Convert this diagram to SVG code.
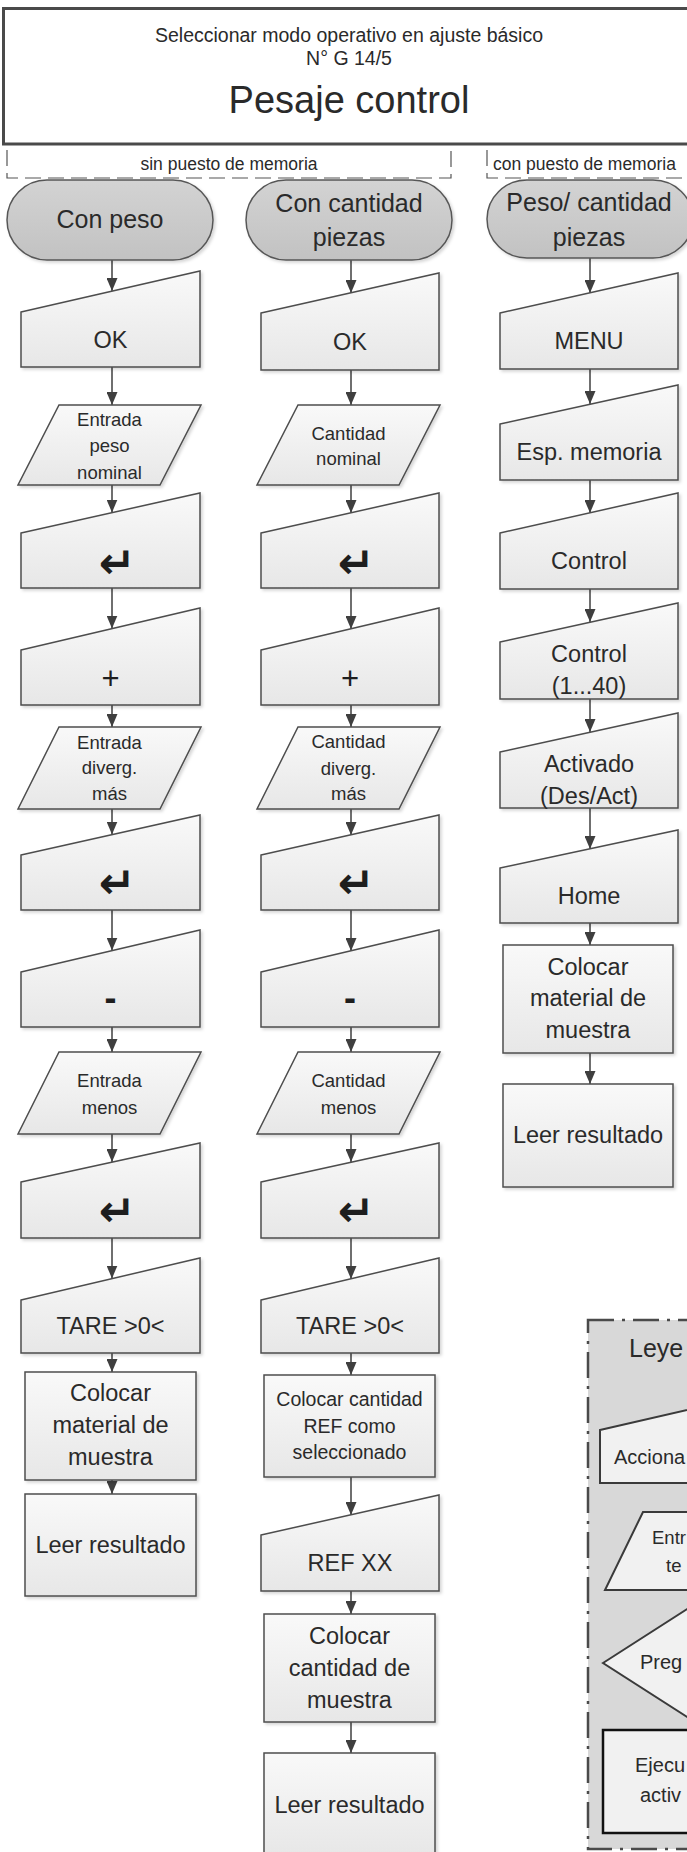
<svg xmlns="http://www.w3.org/2000/svg" width="687" height="1852" viewBox="0 0 687 1852">
  <defs>
    <style>
      .t { font-family: "Liberation Sans", Arial, sans-serif; fill: #2a2a2a; text-anchor: middle; }
      .s { text-anchor: start; }
      .f38 { font-size: 38px; }
      .f25 { font-size: 25px; }
      .f23 { font-size: 23.5px; }
      .f20 { font-size: 20px; }
      .f19 { font-size: 19.5px; }
      .f18 { font-size: 18.5px; }
      .f17 { font-size: 17.5px; }
      .sym { font-family: "DejaVu Sans", sans-serif; font-weight: bold; font-size: 44px; fill: #1e1e1e; text-anchor: middle; }
      .plus { font-family: "Liberation Sans", Arial, sans-serif; font-size: 31px; fill: #1e1e1e; text-anchor: middle; }
      .minus { font-family: "Liberation Sans", Arial, sans-serif; font-weight: bold; font-size: 36px; fill: #1e1e1e; text-anchor: middle; }
      .term { fill: url(#gTerm); stroke: #575757; stroke-width: 1.5; filter: url(#sh); }
      .box { fill: url(#gBox); stroke: #4e4e4e; stroke-width: 1.5; filter: url(#sh); }
      .lg { fill: #f1f1f1; stroke: #3a3a3a; stroke-width: 2; }
      .grp { fill: none; stroke: #555; stroke-width: 1.2; stroke-dasharray: 16 7; }
      #connectors line { stroke: #3f3f3f; stroke-width: 1.5; marker-end: url(#ah); }
    </style>
    <linearGradient id="gBox" x1="0" y1="0" x2="0" y2="1">
      <stop offset="0" stop-color="#f9f9f9"/>
      <stop offset="1" stop-color="#e7e7e7"/>
    </linearGradient>
    <linearGradient id="gTerm" x1="0" y1="0" x2="0" y2="1">
      <stop offset="0" stop-color="#d3d3d3"/>
      <stop offset="1" stop-color="#c2c2c2"/>
    </linearGradient>
    <filter id="sh" x="-5%" y="-5%" width="115%" height="120%">
      <feDropShadow dx="2" dy="2" stdDeviation="1.5" flood-color="#000" flood-opacity="0.16"/>
    </filter>
    <marker id="ah" markerUnits="userSpaceOnUse" markerWidth="13" markerHeight="11" refX="13" refY="5.5" orient="auto">
      <path d="M0,0 L13,5.5 L0,11 Z" fill="#3f3f3f"/>
    </marker>
  </defs>

  <rect width="687" height="1852" fill="#ffffff"/>

  <!-- header -->
  <g id="title">
    <rect x="3.5" y="8.5" width="700" height="135.5" fill="#ffffff" stroke="#4a4a4a" stroke-width="3"/>
    <text class="t f19" x="349" y="42">Seleccionar modo operativo en ajuste básico</text>
    <text class="t f19" x="349" y="65">N° G 14/5</text>
    <text class="t f38" x="349" y="113">Pesaje control</text>
  </g>

  <!-- mode groups -->
  <g id="grp-sin">
    <path class="grp" d="M7,150 V178 H451 V150"/>
    <text class="t f17" x="229" y="170">sin puesto de memoria</text>
  </g>
  <g id="grp-con">
    <path class="grp" d="M487,150 V178 H700"/>
    <text class="t f17 s" x="493" y="170">con puesto de memoria</text>
  </g>

  <!-- connectors -->
  <g id="connectors">
    <line x1="112" y1="260" x2="112" y2="291"/>
    <line x1="112" y1="367" x2="112" y2="405"/>
    <line x1="112" y1="485" x2="112" y2="512.5"/>
    <line x1="112" y1="588" x2="112" y2="628.5"/>
    <line x1="112" y1="705" x2="112" y2="727"/>
    <line x1="112" y1="809" x2="112" y2="834.5"/>
    <line x1="112" y1="910" x2="112" y2="950.5"/>
    <line x1="112" y1="1027" x2="112" y2="1052"/>
    <line x1="112" y1="1134" x2="112" y2="1162"/>
    <line x1="112" y1="1238" x2="112" y2="1278.5"/>
    <line x1="112" y1="1353" x2="112" y2="1372"/>
    <line x1="112" y1="1480" x2="112" y2="1494"/>

    <line x1="351" y1="260" x2="351" y2="293"/>
    <line x1="351" y1="370" x2="351" y2="405"/>
    <line x1="351" y1="485" x2="351" y2="513"/>
    <line x1="351" y1="588" x2="351" y2="629"/>
    <line x1="351" y1="705" x2="351" y2="727"/>
    <line x1="351" y1="809" x2="351" y2="835"/>
    <line x1="351" y1="910" x2="351" y2="951"/>
    <line x1="351" y1="1027" x2="351" y2="1052"/>
    <line x1="351" y1="1134" x2="351" y2="1162"/>
    <line x1="351" y1="1238" x2="351" y2="1279"/>
    <line x1="351" y1="1353" x2="351" y2="1375"/>
    <line x1="351" y1="1477" x2="351" y2="1515"/>
    <line x1="351" y1="1591" x2="351" y2="1614"/>
    <line x1="351" y1="1722" x2="351" y2="1753"/>

    <line x1="590" y1="258" x2="590" y2="293"/>
    <line x1="590" y1="369" x2="590" y2="404"/>
    <line x1="590" y1="480" x2="590" y2="513"/>
    <line x1="590" y1="589" x2="590" y2="622"/>
    <line x1="590" y1="699" x2="590" y2="732"/>
    <line x1="590" y1="808" x2="590" y2="849"/>
    <line x1="590" y1="923" x2="590" y2="945"/>
    <line x1="590" y1="1053" x2="590" y2="1084"/>
  </g>

  <!-- column 1: con peso -->
  <g id="n1-start">
    <rect class="term" x="7" y="180" width="206" height="80" rx="40" ry="40"/>
    <text class="t f25" x="110" y="228">Con peso</text>
  </g>
  <g id="n1-ok">
    <path class="box" d="M21,312 L200,271 L200,367 L21,367 Z"/>
    <text class="t f23" x="110.5" y="348">OK</text>
  </g>
  <g id="n1-nominal">
    <path class="box" d="M59,405 L201,405 L160,485 L18,485 Z"/>
    <text class="t f18" x="109.5" y="425.5">Entrada</text>
    <text class="t f18" x="109.5" y="452">peso</text>
    <text class="t f18" x="109.5" y="478.5">nominal</text>
  </g>
  <g id="n1-enter1">
    <path class="box" d="M21,533 L200,493 L200,588 L21,588 Z"/>
    <text class="sym" x="117" y="578">↵</text>
  </g>
  <g id="n1-plus">
    <path class="box" d="M21,650 L200,608 L200,705 L21,705 Z"/>
    <text class="plus" x="110.5" y="689">+</text>
  </g>
  <g id="n1-more">
    <path class="box" d="M59,727 L201,727 L160,809 L18,809 Z"/>
    <text class="t f18" x="109.5" y="748.5">Entrada</text>
    <text class="t f18" x="109.5" y="773.5">diverg.</text>
    <text class="t f18" x="109.5" y="799.5">más</text>
  </g>
  <g id="n1-enter2">
    <path class="box" d="M21,855 L200,815 L200,910 L21,910 Z"/>
    <text class="sym" x="117" y="898">↵</text>
  </g>
  <g id="n1-minus">
    <path class="box" d="M21,972 L200,930 L200,1027 L21,1027 Z"/>
    <text class="minus" x="110.5" y="1010">-</text>
  </g>
  <g id="n1-less">
    <path class="box" d="M59,1052 L201,1052 L160,1134 L18,1134 Z"/>
    <text class="t f18" x="109.5" y="1086.5">Entrada</text>
    <text class="t f18" x="109.5" y="1113.5">menos</text>
  </g>
  <g id="n1-enter3">
    <path class="box" d="M21,1182 L200,1143 L200,1238 L21,1238 Z"/>
    <text class="sym" x="117" y="1226">↵</text>
  </g>
  <g id="n1-tare">
    <path class="box" d="M21,1300 L200,1258 L200,1353 L21,1353 Z"/>
    <text class="t f23" x="110.5" y="1334">TARE &gt;0&lt;</text>
  </g>
  <g id="n1-place">
    <rect class="box" x="25" y="1372" width="171" height="108"/>
    <text class="t f23" x="110.5" y="1401">Colocar</text>
    <text class="t f23" x="110.5" y="1433">material de</text>
    <text class="t f23" x="110.5" y="1465">muestra</text>
  </g>
  <g id="n1-read">
    <rect class="box" x="25" y="1494" width="171" height="102"/>
    <text class="t f23" x="110.5" y="1553">Leer resultado</text>
  </g>

  <!-- column 2: con cantidad piezas -->
  <g id="n2-start">
    <rect class="term" x="246" y="180" width="206" height="80" rx="40" ry="40"/>
    <text class="t f25" x="349" y="212">Con cantidad</text>
    <text class="t f25" x="349" y="246">piezas</text>
  </g>
  <g id="n2-ok">
    <path class="box" d="M261,313 L439,273 L439,370 L261,370 Z"/>
    <text class="t f23" x="350" y="350">OK</text>
  </g>
  <g id="n2-nominal">
    <path class="box" d="M298,405 L440,405 L399,485 L257,485 Z"/>
    <text class="t f18" x="348.5" y="439.5">Cantidad</text>
    <text class="t f18" x="348.5" y="464.5">nominal</text>
  </g>
  <g id="n2-enter1">
    <path class="box" d="M261,533 L439,493 L439,588 L261,588 Z"/>
    <text class="sym" x="356" y="578">↵</text>
  </g>
  <g id="n2-plus">
    <path class="box" d="M261,650 L439,608 L439,705 L261,705 Z"/>
    <text class="plus" x="350" y="689">+</text>
  </g>
  <g id="n2-more">
    <path class="box" d="M298,727 L440,727 L399,809 L257,809 Z"/>
    <text class="t f18" x="348.5" y="747.5">Cantidad</text>
    <text class="t f18" x="348.5" y="774.5">diverg.</text>
    <text class="t f18" x="348.5" y="799.5">más</text>
  </g>
  <g id="n2-enter2">
    <path class="box" d="M261,855 L439,815 L439,910 L261,910 Z"/>
    <text class="sym" x="356" y="898">↵</text>
  </g>
  <g id="n2-minus">
    <path class="box" d="M261,972 L439,930 L439,1027 L261,1027 Z"/>
    <text class="minus" x="350" y="1010">-</text>
  </g>
  <g id="n2-less">
    <path class="box" d="M298,1052 L440,1052 L399,1134 L257,1134 Z"/>
    <text class="t f18" x="348.5" y="1086.5">Cantidad</text>
    <text class="t f18" x="348.5" y="1113.5">menos</text>
  </g>
  <g id="n2-enter3">
    <path class="box" d="M261,1182 L439,1143 L439,1238 L261,1238 Z"/>
    <text class="sym" x="356" y="1226">↵</text>
  </g>
  <g id="n2-tare">
    <path class="box" d="M261,1300 L439,1258 L439,1353 L261,1353 Z"/>
    <text class="t f23" x="350" y="1334">TARE &gt;0&lt;</text>
  </g>
  <g id="n2-ref">
    <rect class="box" x="264" y="1375" width="171" height="102"/>
    <text class="t f19" x="349.5" y="1406">Colocar cantidad</text>
    <text class="t f19" x="349.5" y="1433">REF como</text>
    <text class="t f19" x="349.5" y="1459">seleccionado</text>
  </g>
  <g id="n2-refxx">
    <path class="box" d="M261,1535 L439,1495 L439,1591 L261,1591 Z"/>
    <text class="t f23" x="350" y="1571">REF XX</text>
  </g>
  <g id="n2-place">
    <rect class="box" x="264" y="1614" width="171" height="108"/>
    <text class="t f23" x="349.5" y="1644">Colocar</text>
    <text class="t f23" x="349.5" y="1676">cantidad de</text>
    <text class="t f23" x="349.5" y="1708">muestra</text>
  </g>
  <g id="n2-read">
    <rect class="box" x="264" y="1753" width="171" height="103"/>
    <text class="t f23" x="349.5" y="1813">Leer resultado</text>
  </g>

  <!-- column 3: peso / cantidad piezas with memory slot -->
  <g id="n3-start">
    <rect class="term" x="487" y="180" width="206" height="78" rx="40" ry="39"/>
    <text class="t f25" x="589" y="211">Peso/ cantidad</text>
    <text class="t f25" x="589" y="246">piezas</text>
  </g>
  <g id="n3-menu">
    <path class="box" d="M500,313 L678,273 L678,369 L500,369 Z"/>
    <text class="t f23" x="589" y="349">MENU</text>
  </g>
  <g id="n3-slot">
    <path class="box" d="M500,424 L678,385 L678,480 L500,480 Z"/>
    <text class="t f23" x="589" y="460">Esp. memoria</text>
  </g>
  <g id="n3-control">
    <path class="box" d="M500,533 L678,493 L678,589 L500,589 Z"/>
    <text class="t f23" x="589" y="569">Control</text>
  </g>
  <g id="n3-control40">
    <path class="box" d="M500,642 L678,603 L678,699 L500,699 Z"/>
    <text class="t f23" x="589" y="662">Control</text>
    <text class="t f23" x="589" y="694">(1...40)</text>
  </g>
  <g id="n3-active">
    <path class="box" d="M500,752 L678,713 L678,808 L500,808 Z"/>
    <text class="t f23" x="589" y="772">Activado</text>
    <text class="t f23" x="589" y="804">(Des/Act)</text>
  </g>
  <g id="n3-home">
    <path class="box" d="M500,868 L678,830 L678,923 L500,923 Z"/>
    <text class="t f23" x="589" y="904">Home</text>
  </g>
  <g id="n3-place">
    <rect class="box" x="503" y="945" width="170" height="108"/>
    <text class="t f23" x="588" y="975">Colocar</text>
    <text class="t f23" x="588" y="1006">material de</text>
    <text class="t f23" x="588" y="1038">muestra</text>
  </g>
  <g id="n3-read">
    <rect class="box" x="503" y="1084" width="170" height="103"/>
    <text class="t f23" x="588" y="1143">Leer resultado</text>
  </g>

  <!-- legend -->
  <g id="legend">
    <rect x="588" y="1320" width="130" height="529" fill="#d8d8d8" stroke="#4a4a4a" stroke-width="2.5" stroke-dasharray="26 8 3 8"/>
    <text class="t f25 s" x="629" y="1357">Leye</text>
    <path class="lg" d="M600,1430 L779,1389 L779,1483 L600,1483 Z"/>
    <text class="t f20 s" x="614" y="1464">Acciona</text>
    <path class="lg" d="M643,1512 L800,1512 L762,1590 L605,1590 Z"/>
    <text class="t f18 s" x="652" y="1543.5">Entr</text>
    <text class="t f18 s" x="666" y="1571.5">te</text>
    <path class="lg" d="M603,1663 L695,1604 L787,1663 L695,1722 Z"/>
    <text class="t f20 s" x="640" y="1669">Preg</text>
    <rect x="603" y="1730" width="200" height="103" fill="#f1f1f1" stroke="#111" stroke-width="2.5"/>
    <text class="t f20 s" x="635" y="1772">Ejecu</text>
    <text class="t f20 s" x="640" y="1802">activ</text>
  </g>
</svg>
